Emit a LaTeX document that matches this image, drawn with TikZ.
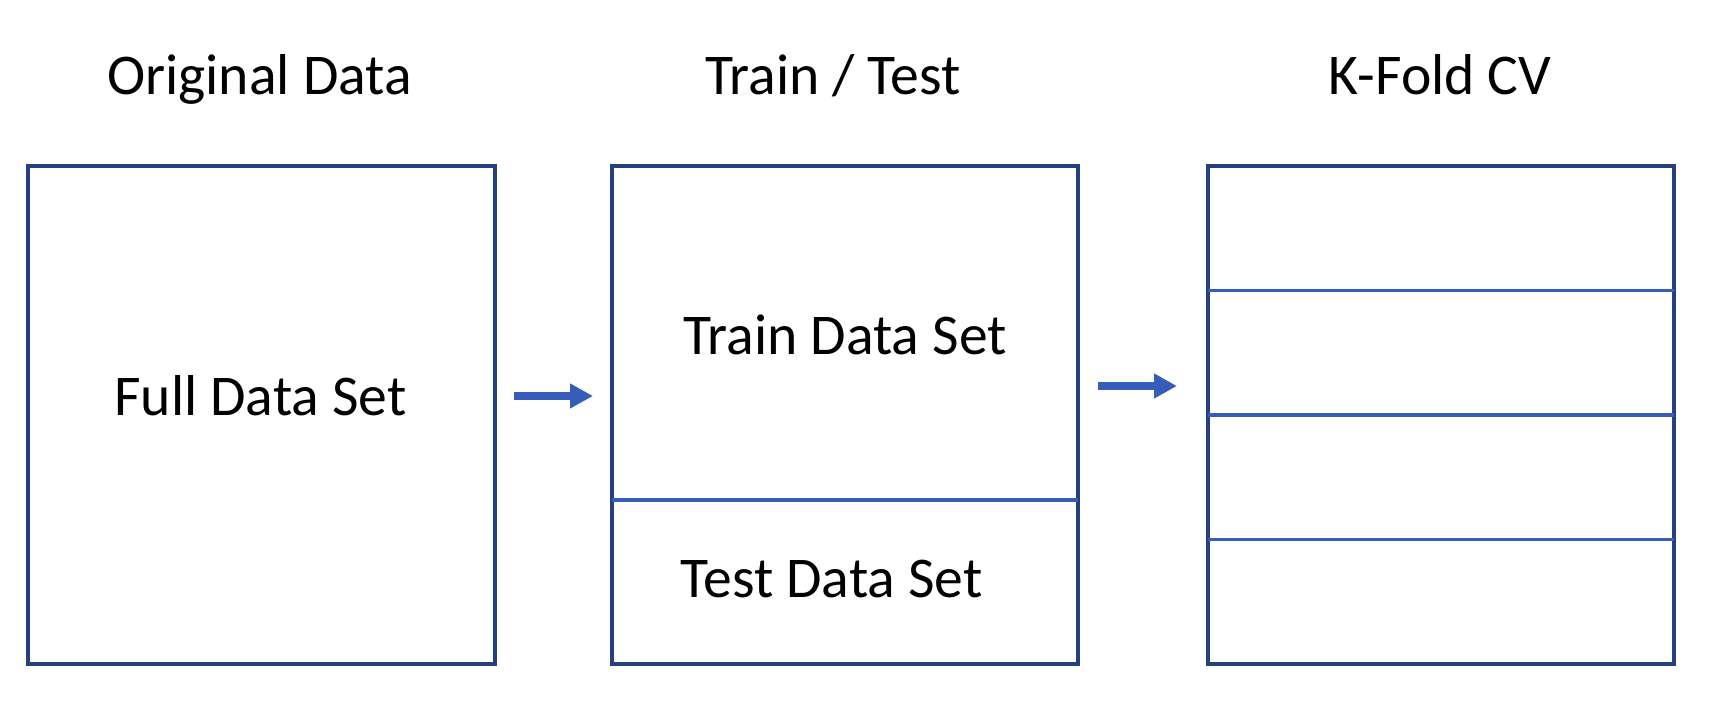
\documentclass[tikz,border=0pt]{standalone}
\usepackage{fontspec}
\setmainfont{Carlito}
\usetikzlibrary{positioning,arrows.meta}
\definecolor{framecol}{HTML}{26407F}
\definecolor{linecol}{HTML}{365DB9}

\begin{document}
\begin{tikzpicture}[
  box/.style={draw=framecol, line width=0.08cm, minimum width=9.32cm,
    minimum height=9.96cm, inner sep=0pt, outer sep=0pt},
  cut/.style={draw=linecol, line width=0.075cm},
  flow/.style={draw=linecol, line width=0.16cm,
    -{Triangle[length=0.46cm,width=0.47cm]}},
  lbl/.style={anchor=base, inner sep=0pt, font=\fontsize{32.8}{39}\selectfont}]
  \useasboundingbox (0,0) rectangle (34.56,-14.36);

  % boxes
  \node[box, minimum width=9.34cm] (full) at (5.23,-8.30) {}; %
  \node[box, right=2.34cm of full] (traintest) {}; %
  \node[box, right=2.60cm of traintest] (kfold) {}; %

  % splits
  \draw[cut] ([yshift=-1.70cm]traintest.west) -- ([yshift=-1.70cm]traintest.east);
  \foreach \k in {-1,0,1}
    \draw[cut] ([yshift=\k*2.49cm]kfold.west) -- ([yshift=\k*2.49cm]kfold.east);

  % arrows
  \draw[flow, shorten <=0.38cm, shorten >=0.38cm]
    ([yshift=0.38cm]full.east) -- ([yshift=0.38cm]traintest.west);
  \draw[flow, shorten <=0.40cm, shorten >=0.62cm]
    ([yshift=0.58cm]traintest.east) -- ([yshift=0.58cm]kfold.west);

  % titles
  \node[lbl] (t-orig) at (5.19,-1.90) {Original Data}; %
  \node[lbl] (t-tt) at (16.66,-1.90) {Train / Test}; %
  \node[lbl] (t-kf) at (28.80,-1.90) {K-Fold CV}; %

  % texts in the boxes
  \node[lbl] (l-full) at (5.21,-8.32) {Full Data Set}; %
  \node[lbl] (l-train) at (16.90,-7.10) {Train Data Set}; %
  \node[lbl] (l-test) at (16.63,-11.94) {Test Data Set}; %

\end{tikzpicture}
\end{document}
